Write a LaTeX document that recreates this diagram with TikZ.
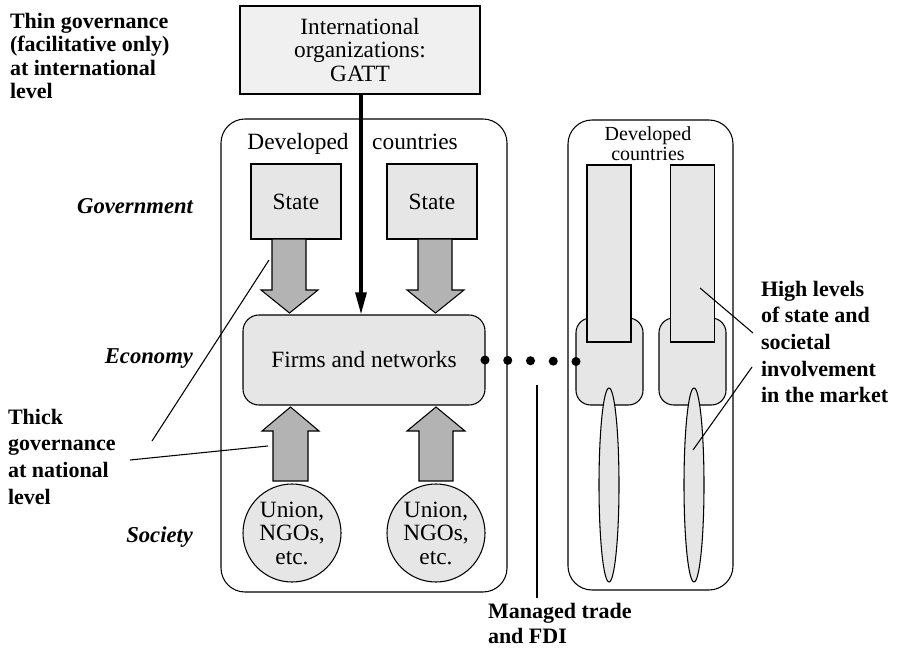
\documentclass[tikz,border=0pt]{standalone}
\usepackage{fontspec}
\setmainfont{Liberation Serif}
\usetikzlibrary{calc,arrows.meta,shapes.geometric}
\definecolor{lightfill}{HTML}{F0F0F0}
\definecolor{boxfill}{HTML}{E6E6E6}
\definecolor{arrowfill}{HTML}{B3B3B3}
\begin{document}
\begin{tikzpicture}[x=0.75pt,y=-0.75pt,
  every node/.style={inner sep=0pt, outer sep=0pt},
  txt/.style={font=\fontsize{17.5}{17.6}\selectfont, align=center},
  smalltxt/.style={font=\fontsize{15}{15}\selectfont, align=center},
  boldlab/.style={font=\fontsize{16.5}{17.6}\selectfont\bfseries, align=left},
  itlab/.style={font=\fontsize{17}{18}\selectfont\bfseries\itshape},
  frame/.style={draw=black, line width=0.8pt, rounded corners=18pt},
  graybox/.style={draw=black, line width=0.8pt, fill=boxfill},
  blockarrow/.style={draw=black, line width=0.8pt, fill=arrowfill},
  callout/.style={draw=black, line width=0.8pt},
]
\useasboundingbox (0,0) rectangle (899,649);

% ---------- left side ----------
\node[frame, minimum width=214.5pt, minimum height=354.75pt] (lb) at (364,355.5) {};
\node[txt, anchor=base] (dev1) at (298,150) {Developed};
\node[txt, anchor=base] (dev2) at (415,150) {countries};

\node[draw=black, line width=0.8pt, fill=lightfill, minimum width=180pt, minimum height=66pt, txt] (gatt) at (360,50)
  {International\\organizations:\\GATT};

\node[graybox, txt, minimum width=67.5pt, minimum height=56.25pt] (sL) at (296,201.5) {State};
\node[graybox, txt, minimum width=67.5pt, minimum height=56.25pt] (sR) at (432,201.5) {State};

\node[graybox, txt, rounded corners=12pt, minimum width=181.5pt, minimum height=67.5pt] (firms) at (364,360) {Firms and networks};

\node[graybox, txt, circle, minimum size=73.5pt] (uL) at (292,533) {Union,\\NGOs,\\etc.};
\node[graybox, txt, circle, minimum size=73.5pt] (uR) at (436,533) {Union,\\NGOs,\\etc.};

% block arrows (state -> firms, unions -> firms)
\draw[blockarrow] (272,239) -- (306,239) -- (306,290) -- (318,290) -- (289.5,313) -- (261,290) -- (272,290) -- cycle;
\draw[blockarrow] (418,239) -- (452,239) -- (452,290) -- (464,290) -- (435.5,313) -- (407,290) -- (418,290) -- cycle;
\draw[blockarrow] (273,481) -- (308,481) -- (308,431) -- (319,431) -- (290.5,407) -- (262,431) -- (273,431) -- cycle;
\draw[blockarrow] (419,481) -- (453,481) -- (453,431) -- (465,431) -- (436,407) -- (407,431) -- (419,431) -- cycle;

% GATT arrow
\draw[line width=3pt, -{Triangle[length=17pt, width=8pt]}] ([xshift=0.75pt]gatt.south) -- ([xshift=0.75pt]gatt.south |- firms.north) ;

% ---------- right side ----------
\node[frame, minimum width=123.75pt, minimum height=352.5pt] (rb) at (650.5,355) {};
\node[smalltxt] (dev3) at (648,144) {Developed\\countries};

\node[graybox, rounded corners=11pt, minimum width=50.25pt, minimum height=65.25pt] (rbL) at (609.5,361.5) {};
\node[graybox, rounded corners=11pt, minimum width=50.25pt, minimum height=65.25pt] (rbR) at (692.5,361.5) {};
\node[graybox, minimum width=33pt, minimum height=132.75pt] (tL) at (609,253.5) {};
\node[graybox, minimum width=33pt, minimum height=132.75pt] (tR) at (692.5,253.5) {};
\node[graybox, ellipse, minimum width=15pt, minimum height=145.5pt] (eL) at (609,485) {};
\node[graybox, ellipse, minimum width=15pt, minimum height=145.5pt] (eR) at (694,485) {};

% dotted link
\foreach \t in {0,0.25,0.5,0.75,1}
  \fill ($(firms.east)!\t!(rbL.west)$) circle (3.4pt);

% ---------- labels ----------
\node[boldlab, anchor=north west] (thin) at (10,13)
  {Thin governance\\(facilitative only)\\at international\\level};
\node[itlab, anchor=base east] (gov) at (193,214) {Government};
\node[itlab, anchor=base east] (eco) at (193,363) {Economy};
\node[itlab, anchor=base east] (soc) at (193,542) {Society};
\node[boldlab, font=\fontsize{16.5}{20}\selectfont\bfseries, anchor=north west] (thick) at (8,409)
  {Thick\\governance\\at national\\level};
\node[boldlab, font=\fontsize{16.5}{20}\selectfont\bfseries, anchor=north west] (high) at (761,281)
  {High levels\\of state and\\societal\\involvement\\in the market};
\node[boldlab, font=\fontsize{16.5}{18.75}\selectfont\bfseries, anchor=north west] (managed) at (488,603)
  {Managed trade\\and FDI};

% callouts
\coordinate (c1a) at (152,441);
\coordinate (c1b) at (269,260);
\coordinate (c2a) at (130,460);
\coordinate (c2b) at (268,446);
\draw[callout] (c1a) -- (c1b);
\draw[callout] (c2a) -- (c2b);
\coordinate (c3a) at (753,333);
\coordinate (c3b) at (700,288);
\coordinate (c4a) at (752,367);
\coordinate (c4b) at (693,450);
\draw[callout] (c3a) -- (c3b);
\draw[callout] (c4a) -- (c4b);
\coordinate (mt) at (537,385);
\draw[line width=1.5pt] (mt) -- (537,598);
\end{tikzpicture}
\end{document}
